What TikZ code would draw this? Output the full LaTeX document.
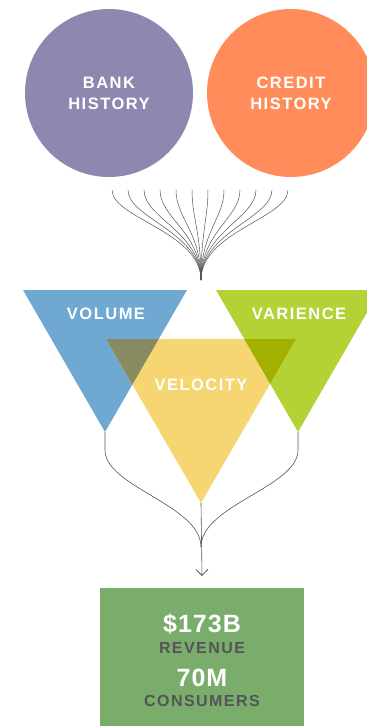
\documentclass[tikz,border=0pt]{standalone}
\usepackage{fontspec}
\setmainfont{Liberation Sans}
\newfontfamily\capsfont[LetterSpace=9]{Liberation Sans}
\newfontfamily\figfont[LetterSpace=4]{Liberation Sans}
\usetikzlibrary{arrows.meta}

\definecolor{bankpurple}{HTML}{9087B0}
\definecolor{creditorange}{HTML}{FF8C5A}
\definecolor{volblue}{HTML}{6FA8D1}
\definecolor{varygreen}{HTML}{B3D236}
\definecolor{velyellow}{HTML}{F5D673}
\definecolor{bluemix}{HTML}{888A62}
\definecolor{greenmix}{HTML}{A2B000}
\definecolor{boxgreen}{HTML}{7AAD6B}
\definecolor{wiregray}{HTML}{555555}
\definecolor{labelgray}{HTML}{545457}

\tikzset{
  source/.style={circle, minimum size=168pt, inner sep=0pt, align=center,
    text=white, font=\capsfont\bfseries\fontsize{16.5}{21}\selectfont},
  tag/.style={text=white, inner sep=0pt, font=\capsfont\bfseries\fontsize{16.5}{18}\selectfont},
  figure/.style={text=white, inner sep=0pt, font=\figfont\bfseries\fontsize{25}{28}\selectfont},
  caption/.style={text=labelgray, inner sep=0pt, font=\capsfont\bfseries\fontsize{16}{18}\selectfont},
  wire/.style={draw=wiregray, line width=0.6pt},
}

\begin{document}
\begin{tikzpicture}[x=1pt, y=-1pt]
  \useasboundingbox (0,0) rectangle (367,726);

  %sources
  \node[source, fill=bankpurple] (bank) at (109,93) {BANK\\HISTORY};
  \node[source, fill=creditorange] (credit) at (291,93) {CREDIT\\HISTORY};

  %fan of strands into one point
  \coordinate (fan) at (201,280);
  \foreach \i in {0,...,11}{
    \draw[wire, line width=0.5pt] ({112+16*\i},190) .. controls ({112+16*\i},218) and (201,232) .. (fan);
  }

  %the three triangles
  \coordinate (volapex) at (105,432);
  \coordinate (varapex) at (298,432);
  \coordinate (velapex) at (201,503);
  \fill[volblue] (23,290) -- (187,290) -- (volapex) -- cycle;
  \fill[varygreen] (216,290) -- (380,290) -- (varapex) -- cycle;
  \fill[velyellow] (106,339) -- (296,339) -- (velapex) -- cycle;
  \begin{scope}
    \clip (23,290) -- (187,290) -- (volapex) -- cycle;
    \fill[bluemix] (106,339) -- (296,339) -- (velapex) -- cycle;
  \end{scope}
  \begin{scope}
    \clip (216,290) -- (380,290) -- (varapex) -- cycle;
    \fill[greenmix] (106,339) -- (296,339) -- (velapex) -- cycle;
  \end{scope}

  \node[tag] (volume) at (106,314) {VOLUME};
  \node[tag] (varience) at (299,314) {VARIENCE};
  \node[tag] (velocity) at (201,385) {VELOCITY};

  %result box
  \node[fill=boxgreen, minimum width=204pt, minimum height=138pt, inner sep=0pt, anchor=north] (result) at (202,588) {};
  \node[figure] (revfig) at (202,624) {\$173B};
  \node[caption] (revtext) at (202,648) {REVENUE};
  \node[figure] (usrfig) at (202,678) {70M};
  \node[caption] (usrtext) at (202,701) {CONSUMERS};

  %merge into the result
  \coordinate (merge) at (201,547);
  \draw[wire] (volapex) -- (105,450) .. controls (105,487) and (201,505) .. (merge);
  \draw[wire] (varapex) -- (298,450) .. controls (298,487) and (201,505) .. (merge);
  \draw[wire, -{Straight Barb[length=6pt,width=12pt,line width=0.8pt]}] (velapex) -- ([yshift=12pt]result.north);
\end{tikzpicture}
\end{document}
